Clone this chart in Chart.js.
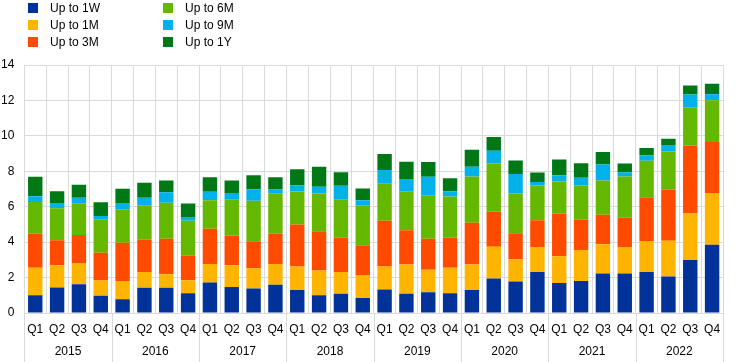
<!DOCTYPE html>
<html>
<head>
<meta charset="utf-8">
<script src="https://cdn.jsdelivr.net/npm/chart.js@4/dist/chart.umd.min.js"></script>
<style>
  body { margin: 0; background: #fff; }
  #wrap { position: relative; width: 744px; height: 362px; }
  #legend { position: absolute; left: 28px; top: 0px; font: 12px "Liberation Sans", Arial, sans-serif; color: #000;
    display: grid; grid-template-columns: 135px 135px; grid-auto-flow: column; grid-template-rows: repeat(3, 16.7px); }
  #legend span.item { display: flex; align-items: center; white-space: nowrap; }
  #legend i { display: inline-block; width: 10px; height: 10px; margin-right: 12px; }
</style>
</head>
<body>
<div id="wrap">
  <canvas id="chart" width="744" height="362"></canvas>
  <div id="legend"></div>
</div>
<script>
const years = ["2015", "2016", "2017", "2018", "2019", "2020", "2021", "2022"];
const quarters = ["Q1", "Q2", "Q3", "Q4"];

// values per quarter, 2015 Q1 .. 2022 Q4
const upTo1W = [1.00, 1.44, 1.63, 0.98, 0.78, 1.42, 1.42, 1.12, 1.72, 1.47, 1.38, 1.59, 1.30, 1.00, 1.08, 0.85,
  1.32, 1.08, 1.17, 1.12, 1.30, 1.95, 1.78, 2.31, 1.70, 1.80, 2.23, 2.23, 2.31, 2.06, 2.99, 3.85];
const upTo1M = [1.55, 1.26, 1.19, 0.85, 1.03, 0.89, 0.77, 0.73, 1.04, 1.23, 1.14, 1.17, 1.33, 1.40, 1.24, 1.29,
  1.31, 1.66, 1.27, 1.43, 1.44, 1.79, 1.26, 1.39, 1.51, 1.75, 1.65, 1.47, 1.75, 2.02, 2.62, 2.93];
const upTo3M = [1.93, 1.40, 1.58, 1.57, 2.16, 1.83, 2.00, 1.38, 2.00, 1.68, 1.53, 1.72, 2.36, 2.21, 1.93, 1.68,
  2.58, 1.93, 1.75, 1.70, 2.36, 1.98, 1.46, 1.53, 2.40, 1.72, 1.67, 1.68, 2.48, 2.89, 3.85, 2.87];
const upTo6M = [1.79, 1.81, 1.80, 1.89, 1.89, 1.94, 2.04, 1.98, 1.61, 2.02, 2.28, 2.28, 1.87, 2.13, 2.17, 2.24,
  2.12, 2.21, 2.46, 2.32, 2.61, 2.72, 2.24, 1.97, 1.81, 1.93, 1.93, 2.33, 2.05, 2.15, 2.15, 2.36];
const upTo9M = [0.32, 0.30, 0.30, 0.19, 0.35, 0.42, 0.59, 0.21, 0.47, 0.38, 0.66, 0.21, 0.34, 0.38, 0.76, 0.31,
  0.74, 0.69, 1.04, 0.31, 0.54, 0.72, 1.10, 0.20, 0.36, 0.43, 0.91, 0.24, 0.31, 0.36, 0.72, 0.34];
const upTo1Y = [1.10, 0.67, 0.74, 0.77, 0.80, 0.85, 0.66, 0.76, 0.83, 0.70, 0.79, 0.70, 0.92, 1.13, 0.77, 0.66,
  0.90, 0.97, 0.83, 0.73, 0.97, 0.78, 0.77, 0.53, 0.89, 0.83, 0.70, 0.49, 0.41, 0.36, 0.51, 0.59];

const seriesNames = ["Up to 1W", "Up to 1M", "Up to 3M", "Up to 6M", "Up to 9M", "Up to 1Y"];
const seriesColors = ["#003299", "#FFB400", "#FF4B00", "#65B800", "#00B1EA", "#007816"];
const seriesData = [upTo1W, upTo1M, upTo3M, upTo6M, upTo9M, upTo1Y];

const labels = [];
years.forEach(y => quarters.forEach(q => labels.push(q)));

const gridColor = "#dadada";
const font = { family: "'Liberation Sans', Arial, sans-serif", size: 12 };

// lines between the years, running down through the label rows
const yearLines = {
  id: "yearLines",
  afterDraw(chart) {
    const ctx = chart.ctx;
    const x = chart.scales.x;
    const half = (x.getPixelForValue(1) - x.getPixelForValue(0)) / 2;
    ctx.save();
    ctx.strokeStyle = gridColor;
    ctx.lineWidth = 1;
    for (let i = 0; i <= years.length; i++) {
      const px = Math.round(x.getPixelForValue(i * 4) - half) + 0.5;
      ctx.beginPath();
      ctx.moveTo(px, chart.chartArea.bottom);
      ctx.lineTo(px, chart.height);
      ctx.stroke();
    }
    ctx.restore();
  }
};

new Chart(document.getElementById("chart"), {
  type: "bar",
  data: {
    labels: labels,
    datasets: seriesNames.map((name, i) => ({
      label: name,
      data: seriesData[i],
      backgroundColor: seriesColors[i],
      barPercentage: 0.66,
      categoryPercentage: 1
    }))
  },
  options: {
    responsive: false,
    animation: false,
    layout: { padding: { top: 65, left: -9, right: 21, bottom: 3 } },
    plugins: { legend: { display: false }, tooltip: { enabled: false } },
    scales: {
      x: {
        stacked: true,
        offset: true,
        grid: { color: gridColor, drawTicks: false, offset: true },
        border: { display: false },
        ticks: { font: font, color: "#000", padding: 9, maxRotation: 0, autoSkip: false },
        afterFit(scale) { scale.height = 24; }
      },
      years: {
        type: "category",
        labels: years,
        position: "bottom",
        offset: true,
        grid: { display: false, drawTicks: false },
        border: { display: false },
        ticks: { font: font, color: "#000", padding: 7, maxRotation: 0 },
        afterFit(scale) { scale.height = 22; }
      },
      y: {
        stacked: true,
        min: 0,
        max: 14,
        grid: { color: gridColor, drawTicks: false },
        border: { display: false },
        ticks: { stepSize: 2, font: font, color: "#000", padding: 10 }
      }
    }
  },
  plugins: [yearLines]
});

const legend = document.getElementById("legend");
seriesNames.forEach((name, i) => {
  const item = document.createElement("span");
  item.className = "item";
  item.innerHTML = '<i style="background:' + seriesColors[i] + '"></i>' + name;
  legend.appendChild(item);
});
</script>
</body>
</html>
